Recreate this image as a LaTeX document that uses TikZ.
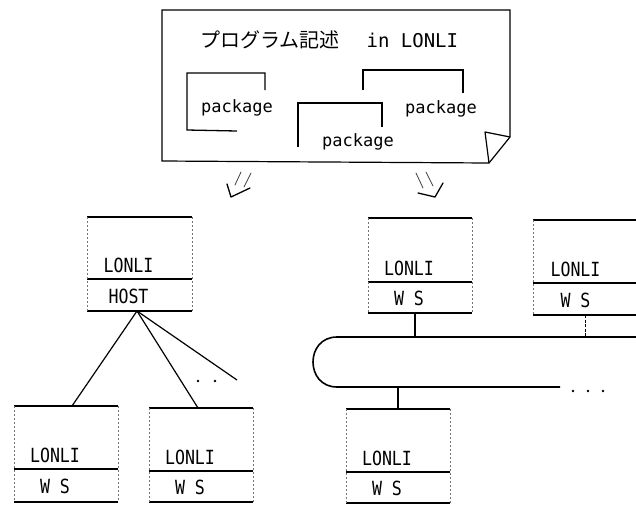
\documentclass[tikz,border=0pt]{standalone}
\usepackage{fontspec}
\newfontfamily\jpfont{Noto Sans CJK JP}
\newfontfamily\plt{DejaVu Sans Mono}
\newfontfamily\pltn[FakeStretch=0.85]{DejaVu Sans Mono}
\tikzset{
  edge/.style={line width=1.2pt, black},
  sidel/.style={line width=0.6pt, black!55, dash pattern=on 1.5pt off 2.5pt},
  brk/.style={line width=1.3pt, black},
  bus/.style={line width=1.6pt, black},
  lbl/.style={font=\pltn\fontsize{19.5}{19.5}\selectfont, inner sep=0pt},
  pkg/.style={font=\plt\fontsize{17}{17}\selectfont, inner sep=0pt},
  arr/.style={line width=1.3pt, black, line cap=round, line join=round},
  shaft/.style={line width=0.8pt, black!75, line cap=round},
  dotm/.style={circle, fill=black, inner sep=0pt, minimum size=2.6pt}
}
% #1 name, #2 x left, #3 x right, #4 y top, #5 y divider, #6 y bottom, #7 lower label
\newcommand\lonlibox[7]{%
  \coordinate (#1-nw) at (#2,#4);
  \coordinate (#1-ne) at (#3,#4);
  \coordinate (#1-sw) at (#2,#6);
  \coordinate (#1-se) at (#3,#6);
  \coordinate (#1-dw) at (#2,#5);
  \coordinate (#1-de) at (#3,#5);
  \draw[edge] (#1-nw) -- (#1-ne);
  \draw[edge] (#1-dw) -- (#1-de);
  \draw[edge] (#1-sw) -- (#1-se);
  \draw[sidel] (#1-nw) -- (#1-sw);
  \draw[sidel] (#1-ne) -- (#1-se);
  \node[lbl] (#1-up) at ({(#2+#3)/2-11},{#5-14}) {LONLI};
  \node[lbl] (#1-lo) at ({(#2+#3)/2-11},{(#5+#6)/2+1}) {#7};
}
\begin{document}
\begin{tikzpicture}[x=1pt,y=-1pt]
\useasboundingbox (0,0) rectangle (636,504);
\clip (0,0) rectangle (636,504);
\fill[white] (0,0) rectangle (636,504);

% document sheet with dog-ear
\coordinate (d1) at (162,10);
\coordinate (d2) at (510,10);
\coordinate (d3) at (510,137);
\coordinate (d4) at (489,163);
\coordinate (d5) at (162,161);
\coordinate (df) at (485,132);
\draw[edge] (d1) -- (d2) -- (d3) -- (d4) -- (d5) -- cycle;
\draw[edge, line join=round] (d4) -- (df) -- (d3);

\node[anchor=west, inner sep=0pt] (title) at (200,40)
  {{\jpfont\fontsize{20}{20}\selectfont プログラム記述}\hspace{27pt}{\plt\fontsize{19}{19}\selectfont in LONLI}};

% package brackets
\draw[brk] (265,90) -- (187,73 -| 265,0) -- (187,73) -- (187,130) -- (237,131);
\draw[brk] (382,127) -- (382,103) -- (298,103) -- (298,147);
\draw[brk] (363,90) -- (363,70) -- (463,70) -- (463,93);
\node[pkg] (pk1) at (237,108) {package};
\node[pkg] (pk2) at (358,142) {package};
\node[pkg] (pk3) at (441,109) {package};

% arrows
\draw[arr] (227,184) -- (231,197) -- (250,188);
\draw[shaft] (241,172) -- (235,185);
\draw[shaft] (251,173) -- (244,187);
\draw[arr] (418,193) -- (435,197) -- (443,183);
\draw[shaft] (416,173) -- (423,188);
\draw[shaft] (426,172) -- (433,186);

% boxes
\lonlibox{host}{87}{192}{217}{279}{311}{HOST}
\lonlibox{mid}{368}{472}{218}{282}{313}{W S}
\lonlibox{rgt}{533}{640}{220}{283}{315}{W S}
\lonlibox{wsa}{14}{118}{406}{469}{502}{W S}
\lonlibox{wsb}{149}{253}{408}{471}{502}{W S}
\lonlibox{wsc}{346}{450}{409}{472}{503}{W S}

% host fan-out
\coordinate (hapex) at (137,311);
\coordinate (wsatop) at (72,406);
\coordinate (wsbtop) at (198,408);
\coordinate (hfree) at (237,380);
\draw[edge] (wsatop) -- (hapex) -- (wsbtop);
\draw[edge] (hapex) -- (hfree);
\node[dotm] (hd1) at (198,381) {};
\node[dotm] (hd2) at (215,381) {};

% bus
\coordinate (busA) at (415,337);
\coordinate (busB) at (585,337);
\coordinate (busC) at (398,387);
\draw[bus] (640,337) -- (337,337) .. controls (305,337) and (305,387) .. (337,387) -- (560,387);
\node[dotm] (bd1) at (573,391) {};
\node[dotm] (bd2) at (588,391) {};
\node[dotm] (bd3) at (603,391) {};
\coordinate (midb) at (415,313);
\coordinate (rgtb) at (585,315);
\coordinate (wsct) at (398,409);
\draw[edge] (midb) -- (busA);
\draw[line width=0.9pt, dash pattern=on 3pt off 1.5pt] (rgtb) -- (busB);
\draw[edge] (busC) -- (wsct);
\end{tikzpicture}
\end{document}
